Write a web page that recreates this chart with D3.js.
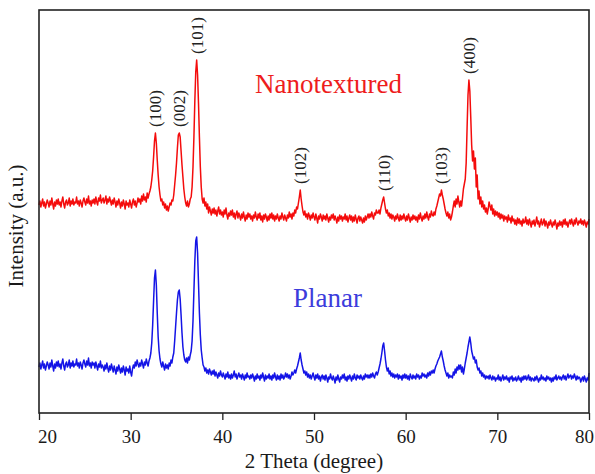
<!DOCTYPE html>
<html>
<head>
<meta charset="utf-8">
<script src="https://cdn.jsdelivr.net/npm/d3@7/dist/d3.min.js"></script>
<style>
  html, body { margin: 0; padding: 0; background: #fff; }
  svg text { font-family: "Liberation Serif", Tinos, "Times New Roman", Times, "DejaVu Serif", serif; }
</style>
</head>
<body>
<svg id="chart" width="595" height="474"></svg>
<script>
// XRD patterns, 2θ from 20° to 80° in 0.1° steps (601 samples per pattern).
// Intensities are in arbitrary units; the nanotextured pattern is stacked above the planar one.
const thetaStart = 20;
const thetaStep = 0.1;

const nanotextured = [
  208,212,206,210,214,207,211,205,209,213,
  210,206,212,208,215,209,204,211,207,213,
  209,214,208,211,206,212,216,209,205,211,
  213,208,210,215,207,212,209,214,208,211,
  210,216,209,212,207,213,210,206,212,215,
  211,208,214,210,217,209,212,207,213,210,
  214,209,216,211,208,215,212,218,210,213,
  215,210,213,217,209,214,211,216,212,208,
  213,209,215,211,206,212,208,214,210,205,
  211,207,213,209,204,212,208,210,206,213,
  209,205,211,214,208,212,206,210,215,211,
  214,209,217,212,219,213,216,211,220,215,
  219,222,226,233,242,256,272,280,270,253,
  238,226,218,212,214,208,211,205,209,203,
  207,202,206,210,208,213,212,218,228,238,
  250,265,278,280,276,262,248,236,224,216,
  210,207,212,206,209,214,216,226,246,276,
  312,341,353,338,310,276,246,226,214,210,
  215,207,211,204,209,200,206,202,198,204,
  200,205,199,203,197,202,206,199,203,198,
  201,196,203,199,205,198,194,200,197,202,
  198,203,196,200,194,199,202,195,200,197,
  193,199,195,201,196,192,198,194,200,196,
  199,194,197,192,198,195,201,196,193,199,
  195,200,193,197,191,198,194,199,196,192,
  197,193,199,195,200,194,198,192,197,194,
  199,195,192,197,194,200,196,193,198,195,
  192,198,195,201,196,199,194,200,197,203,
  200,206,204,210,216,223,214,207,201,198,
  202,196,199,194,200,197,193,198,195,200,
  196,193,199,195,190,197,194,199,196,192,
  198,194,197,193,199,195,191,196,193,198,
  195,199,193,197,194,190,196,192,198,194,
  197,192,196,194,199,193,197,191,195,198,
  193,197,191,196,192,198,194,190,195,197,
  192,196,193,190,195,191,197,193,196,199,
  195,199,196,201,197,194,200,198,203,200,
  200,203,199,205,209,213,216,210,204,200,
  203,197,200,195,199,194,198,196,192,197,
  194,199,195,192,198,193,197,194,199,195,
  192,197,193,199,195,191,196,193,198,194,
  197,193,196,191,198,194,200,195,192,197,
  194,199,195,201,196,193,199,196,202,198,
  197,201,198,204,207,211,215,219,217,223,
  218,214,209,204,200,197,201,195,199,193,
  196,201,207,212,206,214,209,217,211,206,
  212,207,215,224,229,234,250,285,318,333,
  322,296,268,252,262,244,255,226,238,214,
  222,209,216,206,212,204,208,201,205,199,
  204,211,207,203,208,199,204,197,202,198,
  201,196,200,194,199,195,198,192,197,194,
  196,191,198,193,195,190,197,192,194,189,
  193,188,195,190,194,189,192,187,194,190,
  191,196,189,193,188,194,190,186,192,189,
  193,187,191,196,189,192,186,190,194,188,
  190,194,187,192,189,185,191,188,193,189,
  186,191,188,193,189,184,190,187,192,188,
  191,186,193,189,194,188,191,186,190,193,
  189,194,190,187,193,189,195,191,188,192,
  190,194,189,192,188,193,190,186,191,189,
  194
];

const planar = [
  46,50,44,48,52,45,49,43,47,51,
  48,44,50,46,53,47,42,49,45,51,
  47,52,46,49,44,50,54,47,43,49,
  51,46,48,53,45,50,47,52,46,49,
  48,54,47,50,45,51,48,44,50,53,
  49,46,52,48,55,47,50,45,51,48,
  50,45,51,47,43,49,46,52,45,48,
  46,42,48,44,50,45,41,47,43,49,
  45,41,47,43,39,46,42,48,44,40,
  45,41,47,43,38,46,42,44,40,47,
  41,37,44,48,45,51,47,53,49,46,
  50,47,53,49,45,51,48,54,50,47,
  52,55,60,70,88,112,135,143,128,100,
  76,62,54,49,46,51,47,43,49,45,
  48,44,50,47,53,50,56,60,72,86,
  100,113,121,123,114,98,80,66,58,53,
  51,55,50,56,53,58,62,72,92,122,
  152,172,176,160,130,100,78,63,55,48,
  46,42,45,40,43,39,44,41,38,42,
  39,43,37,41,38,35,40,37,42,38,
  36,40,37,34,39,36,41,35,38,34,
  39,35,38,42,36,39,34,37,40,36,
  38,34,39,36,33,38,35,40,36,37,
  34,38,35,39,36,32,37,34,39,35,
  37,33,38,35,40,36,32,38,34,37,
  35,39,34,37,33,38,35,40,36,33,
  38,34,37,33,39,35,38,34,36,40,
  36,39,35,38,34,37,41,38,40,43,
  40,44,47,51,55,60,53,48,44,40,
  42,38,41,36,39,35,38,34,37,40,
  36,33,38,35,39,34,37,32,36,38,
  34,37,33,38,35,31,36,34,39,35,
  33,37,34,30,36,33,38,34,31,36,
  34,38,35,39,33,36,32,37,34,38,
  35,32,37,34,39,35,33,38,35,37,
  34,38,35,33,37,34,39,36,38,35,
  38,35,39,36,40,37,35,39,41,38,
  41,45,49,54,60,67,70,62,53,46,
  42,45,39,42,37,40,36,39,35,38,
  36,39,34,38,35,37,33,38,35,39,
  35,38,34,37,33,39,36,34,38,35,
  37,34,39,36,38,34,37,35,40,37,
  39,36,38,35,40,37,41,38,42,40,
  43,40,44,47,49,52,54,56,59,62,
  56,52,47,43,40,37,40,35,38,36,
  37,35,41,38,44,40,46,43,48,44,
  48,41,46,39,44,50,55,60,66,71,
  76,70,62,58,54,56,50,53,46,43,
  45,40,42,37,40,36,38,34,37,35,
  37,34,38,35,33,37,34,36,32,35,
  34,38,33,36,32,35,38,33,36,34,
  37,33,35,31,36,34,37,32,35,33,
  36,32,34,37,33,35,31,36,33,37,
  34,37,33,35,38,33,36,32,35,34,
  32,36,33,37,34,31,35,33,38,34,
  36,33,35,32,37,34,36,33,35,31,
  35,32,36,34,38,33,35,37,34,36,
  33,36,38,34,37,33,36,39,35,37,
  38,34,37,35,39,36,33,37,34,36,
  35,31,34,36,32,37,34,31,35,33,
  40
];

// Miller indices of the indexed reflections and their 2θ positions (degrees)
const hklLabels = ["(100)", "(002)", "(101)", "(102)", "(110)", "(103)", "(400)"];
const hklPositions = [32.7, 35.3, 37.2, 48.5, 57.6, 63.9, 66.9];

const xTicks = [20, 30, 40, 50, 60, 70, 80];
const seriesNames = ["Nanotextured", "Planar"];

const serif = '"Liberation Serif", Tinos, "Times New Roman", Times, "DejaVu Serif", serif';

const svg = d3.select("#chart");
const margin = { left: 39, right: 6, top: 10, bottom: 61 };
const W = 595, H = 474;
const plotW = W - margin.left - margin.right;
const plotH = H - margin.top - margin.bottom;

const x = d3.scaleLinear().domain([20, 80]).range([margin.left, margin.left + plotW]);
const y = d3.scaleLinear().domain([0, 403]).range([margin.top + plotH, margin.top]);

const toPoints = arr => arr.map((v, i) => [thetaStart + i * thetaStep, v]);

const line = d3.line()
  .x(d => x(d[0]))
  .y(d => y(d[1]));

// traces
svg.append("path")
  .datum(toPoints(planar))
  .attr("fill", "none")
  .attr("stroke", "#1414e6")
  .attr("stroke-width", 1.5)
  .attr("stroke-linejoin", "round")
  .attr("d", line);

svg.append("path")
  .datum(toPoints(nanotextured))
  .attr("fill", "none")
  .attr("stroke", "#f40c0c")
  .attr("stroke-width", 1.5)
  .attr("stroke-linejoin", "round")
  .attr("d", line);

// plot frame
svg.append("rect")
  .attr("x", margin.left)
  .attr("y", margin.top)
  .attr("width", plotW)
  .attr("height", plotH)
  .attr("fill", "none")
  .attr("stroke", "#222")
  .attr("stroke-width", 1.6);

// bottom axis
const xAxis = d3.axisBottom(x)
  .tickValues(xTicks)
  .tickFormat(d3.format("d"))
  .tickSizeInner(7)
  .tickSizeOuter(0);

const gx = svg.append("g")
  .attr("transform", `translate(0,${margin.top + plotH})`)
  .call(xAxis)
  .attr("font-family", serif);
gx.select(".domain").remove();
gx.selectAll(".tick line").attr("stroke", "#222").attr("stroke-width", 1.3);
gx.selectAll(".tick text")
  .attr("y", 30)
  .attr("dy", 0)
  // the outermost labels are pulled inward so they stay inside the figure
  .attr("dx", d => d === 20 ? 8 : d === 80 ? -5 : 0)
  .attr("fill", "#1a1a1a")
  .style("font-family", serif)
  .style("font-size", "19px");

// axis titles
svg.append("text")
  .attr("x", margin.left + plotW / 2)
  .attr("y", 468)
  .attr("text-anchor", "middle")
  .attr("fill", "#1a1a1a")
  .style("font-family", serif)
  .style("font-size", "21px")
  .text("2 Theta (degree)");

svg.append("text")
  .attr("transform", "translate(23,226) rotate(-90)")
  .attr("text-anchor", "middle")
  .attr("fill", "#1a1a1a")
  .style("font-family", serif)
  .style("font-size", "21px")
  .text("Intensity (a.u.)");

// reflection labels above the nanotextured peaks
const peakTop = pos => {
  const i0 = Math.round((pos - 0.2 - thetaStart) / thetaStep);
  const i1 = Math.round((pos + 0.2 - thetaStart) / thetaStep);
  return d3.max(nanotextured.slice(i0, i1 + 1));
};

svg.append("g")
  .selectAll("text")
  .data(hklLabels.map((label, i) => ({ label, pos: hklPositions[i] })))
  .join("text")
  .attr("transform", d => `translate(${x(d.pos) + 6},${y(peakTop(d.pos)) - 6}) rotate(-90)`)
  .attr("text-anchor", "start")
  .attr("fill", "#222")
  .style("font-family", serif)
  .style("font-size", "17px")
  .text(d => d.label);

// series names
svg.append("text")
  .attr("x", 255)
  .attr("y", 93)
  .attr("fill", "#ee1c1c")
  .style("font-family", serif)
  .style("font-size", "27px")
  .text(seriesNames[0]);

svg.append("text")
  .attr("x", 293)
  .attr("y", 307)
  .attr("fill", "#3c3cdc")
  .style("font-family", serif)
  .style("font-size", "27px")
  .text(seriesNames[1]);
</script>
</body>
</html>
